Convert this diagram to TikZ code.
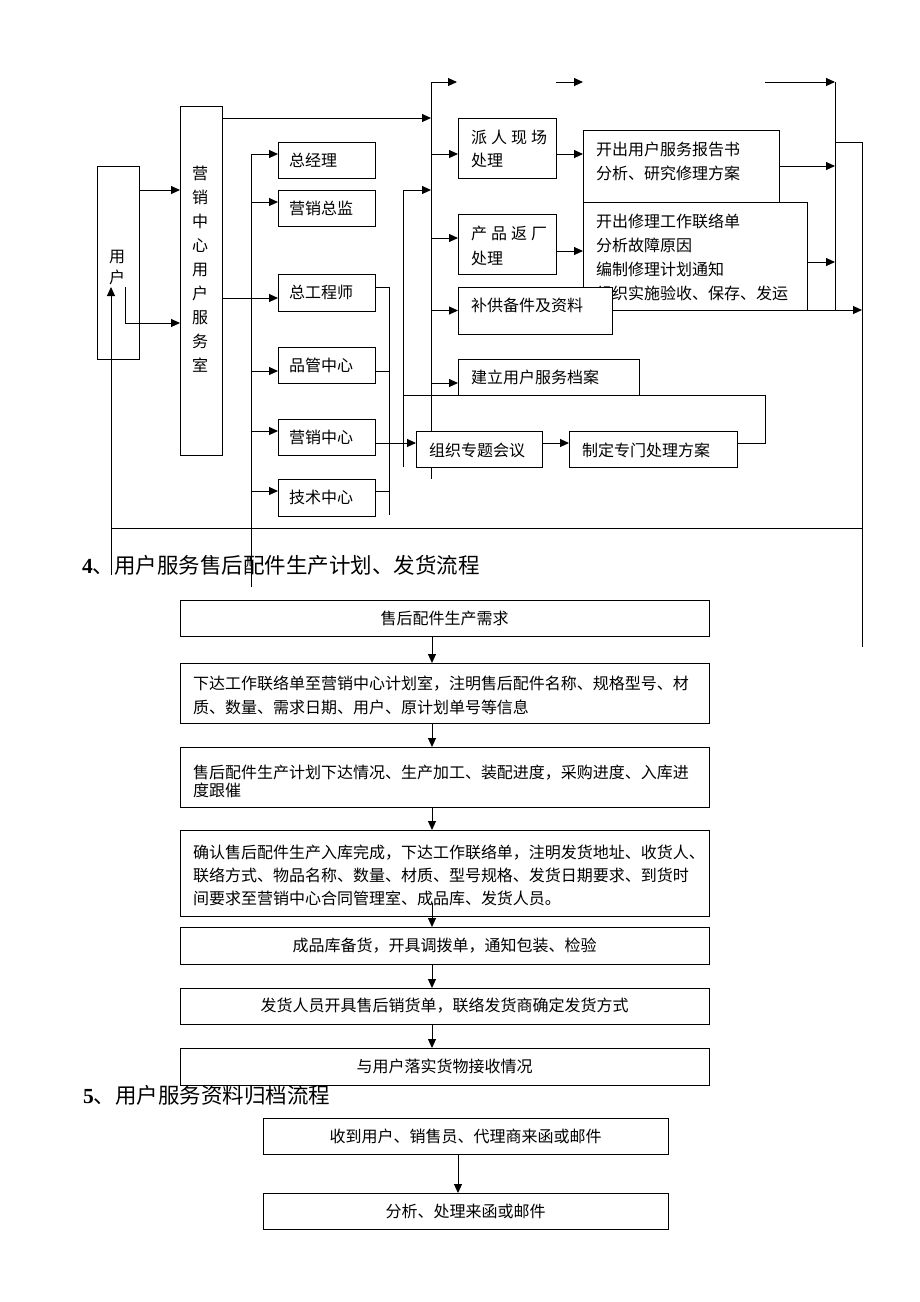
\documentclass[tikz,border=0pt]{standalone}
\usepackage{fontspec}
\setmainfont{Liberation Serif}
\newfontfamily\cjk{Noto Sans CJK SC}
\usetikzlibrary{arrows.meta}
\newcommand\bx[5]{\node[box, minimum width={(#4)-(#2)}, minimum height={(#5)-(#3)}] (#1) at ({((#2)+(#4))/2},{((#3)+(#5))/2}) {};}
\begin{document}
\begin{tikzpicture}[x=1pt,y=-1pt,
  every node/.style={inner sep=0pt, outer sep=0pt},
  box/.style={draw, line width=1pt, fill=white},
  ln/.style={line width=1pt},
  arr/.style={line width=1pt, -{Triangle[length=9pt,width=8pt]}},
  txt/.style={anchor=west, align=left, font=\cjk\fontsize{16pt}{#1}\selectfont},
  txt/.default=24pt,
  ctr/.style={font=\cjk\fontsize{16pt}{24pt}\selectfont},
  head/.style={anchor=west, font=\fontsize{21.5pt}{26pt}\selectfont}]
\fill[white] (0,0) rectangle (920,1302);
\useasboundingbox (0,0) rectangle (920,1302);

% ---------- top diagram: boxes ----------
\bx{yh}{97}{166}{139}{359}
\node[align=center, font=\cjk\fontsize{16pt}{21pt}\selectfont] (yhT) at (117,267.5) {用\\户};
\bx{yx}{180}{106}{222}{455}
\node[align=center, font=\cjk\fontsize{16pt}{24pt}\selectfont] (yxT) at (200,269) {营\\销\\中\\心\\用\\户\\服\\务\\室};

\bx{zjl}{278}{142}{375}{178}  \node[txt] (zjlT) at (289,160) {总经理};
\bx{yxzj}{278}{190}{375}{226} \node[txt] (yxzjT) at (289,208) {营销总监};
\bx{zgcs}{278}{274}{375}{311} \node[txt] (zgcsT) at (289,292.5) {总工程师};
\bx{pg}{278}{347}{375}{383}   \node[txt] (pgT) at (289,365) {品管中心};
\bx{yxzx}{278}{419}{375}{455} \node[txt] (yxzxT) at (289,437) {营销中心};
\bx{js}{278}{479}{375}{516}   \node[txt] (jsT) at (289,497.5) {技术中心};

\bx{prxc}{458}{118}{556}{178}
\node[txt=23pt] (prxcT) at (471,148.5) {派\hspace{4pt}人\hspace{4pt}现\hspace{4pt}场\\处理};
\bx{cpfc}{458}{214}{556}{274}
\node[txt=25pt] (cpfcT) at (471,245.5) {产\hspace{4pt}品\hspace{4pt}返\hspace{4pt}厂\\处理};
\bx{kc1}{583}{130}{779}{202}
\node[txt] (kc1T) at (596,161) {开出用户服务报告书\\分析、研究修理方案};
\bx{kc2}{583}{202}{807}{310}
\node[txt] (kc2T) at (596,257) {开出修理工作联络单\\分析故障原因\\编制修理计划通知\\组织实施验收、保存、发运};
\bx{bg}{458}{287}{612}{334}  \node[txt] (bgT) at (471,305) {补供备件及资料};
\bx{jl}{458}{359}{639}{395}  \node[txt] (jlT) at (471,377) {建立用户服务档案};

% ---------- top diagram: coordinates ----------
\coordinate (c1) at (125,287);
\coordinate (c2) at (111,575);
\coordinate (c3) at (111,287);
\coordinate (bl) at (111,528);
\coordinate (br) at (862,528);
\coordinate (rt) at (862,142);
\coordinate (rb) at (862,647);
\coordinate (v1a) at (431,82);  \coordinate (v1b) at (431,479);
\coordinate (v0a) at (403,190); \coordinate (v0b) at (403,467);
\coordinate (v2a) at (251,154); \coordinate (v2b) at (251,587);
\coordinate (v3a) at (389,287); \coordinate (v3b) at (389,515);
\coordinate (v4a) at (835,82);  \coordinate (v4b) at (835,310);
\coordinate (lp) at (765,395);
\coordinate (f1) at (457,82);
\coordinate (f2a) at (556,82); \coordinate (f2b) at (583,82);
\coordinate (f3) at (765,82);

% ---------- top diagram: connectors ----------
\draw[ln] (v1a) -- (v1b);
\draw[arr] (yh.east |- 0,190) -- (yx.west |- 0,190);
\draw[arr] (c1) |- (yx.west |- 0,323);
\draw[arr] (c2) -- (c3);
\draw[ln] (bl) -- (br);
\draw[ln] (rt) -- (rb);
\draw[ln] (v4a |- rt) -- (rt);
\draw[ln] (v4a) -- (v4b);
\draw[arr] (yx.east |- 0,118) -- (v1a |- 0,118);
\draw[arr] (v1a) -- (f1);
\draw[arr] (f2a) -- (f2b);
\draw[arr] (f3) -- (v4a);
\draw[arr] (v1a |- 0,154) -- (prxc.west |- 0,154);
\draw[arr] (v1a |- 0,238) -- (cpfc.west |- 0,238);
\draw[arr] (v1a |- bg.west) -- (bg.west);
\draw[arr] (v1a |- 0,383) -- (jl.west |- 0,383);
\draw[ln] (v0a) -- (v0b);
\draw[arr] (v0a) -- (v1a |- v0a);
\draw[ln] (v2a) -- (v2b);
\draw[arr] (v2a) -- (zjl.west |- v2a);
\draw[arr] (v2a |- 0,202) -- (yxzj.west |- 0,202);
\draw[arr] (yx.east |- 0,298) -- (zgcs.west |- 0,298);
\draw[arr] (v2a |- 0,371) -- (pg.west |- 0,371);
\draw[arr] (v2a |- 0,431) -- (yxzx.west |- 0,431);
\draw[arr] (v2a |- 0,491) -- (js.west |- 0,491);
\draw[ln] (zgcs.east |- v3a) -- (v3a) -- (v3b);
\draw[ln] (pg.east |- 0,371) -- (v3a |- 0,371);
\draw[ln] (js.east |- 0,491) -- (v3a |- 0,491);
\draw[arr] (prxc.east |- 0,154) -- (kc1.west |- 0,154);
\draw[arr] (cpfc.east |- 0,251) -- (kc2.west |- 0,251);
\draw[arr] (kc1.east |- 0,166) -- (v4a |- 0,166);
\draw[arr] (kc2.east |- 0,262) -- (v4a |- 0,262);
\draw[arr] (bg.east |- 0,310) -- (rt |- 0,310);

\bx{zz}{416}{431}{542}{467}  \node[txt] (zzT) at (429,450) {组织专题会议};
\bx{zd}{569}{431}{737}{467}  \node[txt] (zdT) at (582,450) {制定专门处理方案};
\draw[arr] (yxzx.east |- 0,443) -- (zz.west |- 0,443);
\draw[arr] (zz.east |- 0,443) -- (zd.west |- 0,443);
\draw[ln] (zd.east |- 0,443) -| (lp) -- (v0a |- lp);

% ---------- section 4 ----------
\node[head] (h4) at (82,565) {\textbf{4}{\cjk 、用户服务售后配件生产计划、发货流程}};
\bx{s1}{180}{600}{709}{636}
\node[ctr] (s1T) at (s1.center) {售后配件生产需求};
\bx{s2}{180}{663}{709}{723}
\node[txt] (s2T) at (193,695) {下达工作联络单至营销中心计划室，注明售后配件名称、规格型号、材\\质、数量、需求日期、用户、原计划单号等信息};
\bx{s3}{180}{747}{709}{807}
\node[txt=18pt] (s3T) at (193,781) {售后配件生产计划下达情况、生产加工、装配进度，采购进度、入库进\\度跟催};
\bx{s4}{180}{830}{709}{916}
\node[txt=23pt] (s4T) at (193,875) {确认售后配件生产入库完成，下达工作联络单，注明发货地址、收货人、\\联络方式、物品名称、数量、材质、型号规格、发货日期要求、到货时\\间要求至营销中心合同管理室、成品库、发货人员。};
\bx{s5}{180}{927}{709}{964}
\node[ctr] (s5T) at (s5.center) {成品库备货，开具调拨单，通知包装、检验};
\bx{s6}{180}{988}{709}{1024}
\node[ctr] (s6T) at (s6.center) {发货人员开具售后销货单，联络发货商确定发货方式};
\bx{s7}{180}{1048}{709}{1085}
\node[ctr] (s7T) at (s7.center) {与用户落实货物接收情况};
\coordinate (ax4) at (432,0);
\coordinate (s4m) at (432,903);
\draw[arr] (ax4 |- s1.south) -- (ax4 |- s2.north);
\draw[arr] (ax4 |- s2.south) -- (ax4 |- s3.north);
\draw[arr] (ax4 |- s3.south) -- (ax4 |- s4.north);
\draw[arr] (s4m) -- (ax4 |- s5.north);
\draw[arr] (ax4 |- s5.south) -- (ax4 |- s6.north);
\draw[arr] (ax4 |- s6.south) -- (ax4 |- s7.north);

% ---------- section 5 ----------
\node[head] (h5) at (83,1095) {\textbf{5}{\cjk 、用户服务资料归档流程}};
\bx{t1}{263}{1118}{668}{1154}
\node[ctr] (t1T) at (t1.center) {收到用户、销售员、代理商来函或邮件};
\bx{t2}{263}{1193}{668}{1229}
\node[ctr] (t2T) at (t2.center) {分析、处理来函或邮件};
\coordinate (ax5) at (458,0);
\draw[arr] (ax5 |- t1.south) -- (ax5 |- t2.north);
\end{tikzpicture}
\end{document}
